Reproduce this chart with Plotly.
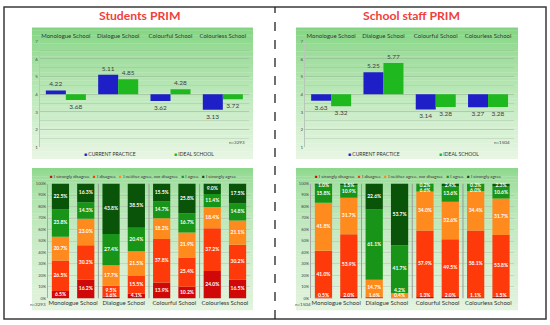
import plotly.graph_objects as go

W, H = 550, 325
def px(x): return x / W
def py(y): return 1 - y / H

# ---------------- data ----------------
schools = ["Monologue School", "Dialogue School", "Colourful School", "Colourless School"]
students_current = [4.22, 5.11, 3.62, 3.13]
students_ideal = [3.68, 4.85, 4.28, 3.72]
staff_current = [3.63, 5.25, 3.14, 3.27]
staff_ideal = [3.32, 5.77, 3.28, 3.28]

likert = ["I strongly disagree", "I disagree", "I neither agree, nor disagree", "I agree", "I strongly agree"]
# 8 bars: Monologue cur/ideal, Dialogue cur/ideal, Colourful cur/ideal, Colourless cur/ideal
students_sd = [6.5, 16.2, 1.6, 4.1, 13.9, 10.2, 24.0, 16.5]
students_d = [26.5, 30.2, 9.5, 15.5, 37.8, 25.4, 37.2, 30.2]
students_n = [20.7, 23.0, 17.7, 21.5, 18.2, 21.9, 18.4, 21.1]
students_a = [23.8, 14.3, 27.4, 20.4, 14.7, 16.7, 11.4, 14.8]
students_sa = [22.5, 16.3, 43.8, 38.5, 15.5, 25.8, 9.0, 17.5]
staff_sd = [0.5, 2.0, 0.0, 0.0, 1.3, 2.0, 1.1, 1.5]
staff_d = [41.0, 53.9, 1.6, 0.4, 57.9, 49.5, 58.1, 53.8]
staff_n = [41.8, 31.7, 14.7, 4.2, 34.0, 32.6, 34.4, 31.7]
staff_a = [15.8, 10.9, 61.1, 41.7, 6.6, 13.6, 6.0, 10.6]
staff_sa = [1.0, 1.5, 22.6, 53.7, 0.2, 2.4, 0.3, 2.3]
bar_positions = [0, 1, 2, 3, 4, 5, 6, 7]
group_centers = [0.5, 2.5, 4.5, 6.5]

BLUE = "#1F1FC8"
GREEN = "#1FB81F"
LIK_COLORS = ["#D00808", "#FF3A0A", "#FF8A1E", "#189418", "#0A540A"]
FONT = "Lato, Carlito, sans-serif"

fig = go.Figure()

# ---------------- top charts ----------------
for ax, cur, ide in (("", students_current, students_ideal), ("2", staff_current, staff_ideal)):
    for vals, col in ((cur, BLUE), (ide, GREEN)):
        fig.add_trace(go.Bar(
            x=schools, y=[v - 4 for v in vals], base=4,
            text=[f"{v:.2f}" for v in vals], textposition="outside",
            textfont=dict(size=6.5, color="#404040", family=FONT),
            marker=dict(color=col, line=dict(width=0)),
            cliponaxis=False, showlegend=False, hoverinfo="skip",
            xaxis="x" + ax, yaxis="y" + ax))

# ---------------- bottom charts ----------------
MIN_GAP, FLOOR, CEIL = 4.2, 2.6, 97.9
for ax, series in (("3", [students_sd, students_d, students_n, students_a, students_sa]),
                   ("4", [staff_sd, staff_d, staff_n, staff_a, staff_sa])):
    cum = [0.0] * len(bar_positions)
    centers = []
    for k, vals in enumerate(series):
        fig.add_trace(go.Bar(
            x=bar_positions, y=vals, base=list(cum), offsetgroup="s", width=0.68,
            marker=dict(color=LIK_COLORS[k], line=dict(width=0)),
            name=likert[k], showlegend=False, hoverinfo="skip",
            xaxis="x" + ax, yaxis="y" + ax))
        centers.append([c + v / 2 for c, v in zip(cum, vals)])
        cum = [c + v for c, v in zip(cum, vals)]
    # data labels: segment centres, nudged apart when segments are thin
    lx, ly, lt = [], [], []
    for i in bar_positions:
        idx = [k for k in range(len(series)) if series[k][i] > 0]
        ys = [centers[k][i] for k in idx]
        prev = -1e9
        for j in range(len(ys)):
            ys[j] = max(ys[j], FLOOR, prev + MIN_GAP)
            prev = ys[j]
        nxt = 1e9
        for j in range(len(ys) - 1, -1, -1):
            ys[j] = min(ys[j], CEIL, nxt - MIN_GAP)
            nxt = ys[j]
        for k, yv in zip(idx, ys):
            lx.append(i)
            ly.append(yv)
            lt.append(f"{series[k][i]:.1f}%")
    fig.add_trace(go.Scatter(
        x=lx, y=ly, text=lt, mode="text", textposition="middle center",
        textfont=dict(size=5, color="white", family=FONT, weight="bold"),
        showlegend=False, hoverinfo="skip", cliponaxis=False,
        xaxis="x" + ax, yaxis="y" + ax))

# ---------------- layout ----------------
shapes = []
def gradient(x0, x1, y0, y1, ctop, cbot, n=50, gamma=1.0):
    for i in range(n):
        t = ((i + 0.5) / n) ** gamma
        c = tuple(round(a + (b - a) * t) for a, b in zip(ctop, cbot))
        ya = y0 + (y1 - y0) * i / n
        yb = y0 + (y1 - y0) * (i + 1) / n + 0.3
        shapes.append(dict(type="rect", xref="paper", yref="paper",
                           x0=px(x0), x1=px(x1), y0=py(ya), y1=py(min(yb, y1)),
                           fillcolor=f"rgb{c}", line=dict(width=0), layer="below"))

TOPC = (128, 212, 128)
gradient(32, 253, 25, 159, TOPC, (232, 246, 228), gamma=0.8)
gradient(296, 518, 25, 159, TOPC, (232, 246, 228), gamma=0.8)
gradient(32, 253, 168, 313, TOPC, (226, 243, 222), gamma=0.45)
gradient(296, 518, 168, 313, TOPC, (226, 243, 222), gamma=0.45)

# separators in bottom charts
for ax in ("3", "4"):
    for xs in (1.5, 3.5, 5.5):
        shapes.append(dict(type="line", xref="x" + ax, yref="y" + ax, x0=xs, x1=xs, y0=0, y1=100,
                           line=dict(color="#9A9A9A", width=1), layer="above"))

# outer border and divider
shapes.append(dict(type="rect", xref="paper", yref="paper", x0=px(4), x1=px(546), y0=py(322), y1=py(4),
                   line=dict(color="#3A3A3A", width=1.5), layer="above"))
shapes.append(dict(type="line", xref="paper", yref="paper", x0=px(275), x1=px(275), y0=py(322), y1=py(4),
                   line=dict(color="#222222", width=1.3, dash="dash"), layer="above"))

GRID = "rgba(150,180,150,0.45)"
def top_x(dom):
    return dict(domain=dom, side="top", type="category", showline=False, ticks="",
                tickfont=dict(size=6, color="#333333", family=FONT), showgrid=False, ticklabelstandoff=1)
def top_y(dom):
    return dict(domain=dom, range=[1, 7], tickvals=[1, 2, 3, 4, 5, 6, 7], showgrid=True,
                gridcolor=GRID, gridwidth=0.7, zeroline=False, showline=True, linecolor="#B8C8B8",
                linewidth=1, ticks="", tickfont=dict(size=4.5, color="#444444", family=FONT),
                minor=dict(dtick=0.5, showgrid=True, gridcolor=GRID, gridwidth=0.7))
def bot_x(dom):
    return dict(domain=dom, range=[-0.5, 7.5], tickvals=group_centers, ticktext=schools, showgrid=False,
                zeroline=False, showline=False, ticks="",
                tickfont=dict(size=6, color="#333333", family=FONT))
def bot_y(dom):
    return dict(domain=dom, range=[0, 100], tickvals=list(range(0, 101, 10)),
                ticktext=[f"{v}%" for v in range(0, 101, 10)], showgrid=True, gridcolor="rgba(170,170,170,0.6)",
                gridwidth=0.6, zeroline=False, showline=True, linecolor="#A8A8A8", ticks="",
                tickfont=dict(size=4, color="#444444", family=FONT))

def ann(text, x, y, size, color="#333333", xa="center", ya="middle", bold=False):
    f = dict(size=size, color=color, family=FONT)
    if bold:
        f["weight"] = "bold"
    return dict(text=text, x=px(x), y=py(y), xref="paper", yref="paper", showarrow=False,
                xanchor=xa, yanchor=ya, font=f)

annotations = [
    ann("Students PRIM", 139, 13, 12.2, "#F0403C", bold=True),
    ann("School staff PRIM", 411, 13, 12.2, "#F0403C", bold=True),
]
for xb, xg, xn, ntext in ((82, 172, 247, "n=3293"), (346, 437, 512, "n=1504")):
    annotations.append(ann(f"<span style='color:{BLUE}'>■</span> CURRENT PRACTICE", xb, 153.5, 5, xa="left"))
    annotations.append(ann(f"<span style='color:{GREEN}'>■</span> IDEAL SCHOOL", xg, 153.5, 5, xa="left"))
    annotations.append(ann(ntext, xn, 142, 4.5, "#444444", xa="right"))

sp = "&nbsp;" * 3
leg = sp.join(f"<span style='color:{c}'>■</span> {n}" for c, n in zip(LIK_COLORS, likert))
for xc in (143, 408):
    annotations.append(ann(leg, xc, 176.5, 4.5))
for xn, ntext in ((38, "n=3293"), (303, "n=1504")):
    annotations.append(ann(ntext, xn, 307.5, 4.5, "#444444"))

fig.update_layout(
    width=W, height=H, margin=dict(l=0, r=0, t=0, b=0),
    paper_bgcolor="white", plot_bgcolor="rgba(0,0,0,0)",
    barmode="group", bargap=0.235, bargroupgap=0,
    font=dict(family=FONT),
    xaxis=top_x([px(39.7), px(249)]), yaxis=top_y([py(147), py(39)]),
    xaxis2=top_x([px(305), px(514.2)]), yaxis2=top_y([py(147), py(39)]),
    xaxis3=bot_x([px(47.8), px(250.2)]), yaxis3=bot_y([py(301), py(184)]),
    xaxis4=bot_x([px(310.8), px(513.7)]), yaxis4=bot_y([py(301), py(184)]),
    shapes=shapes, annotations=annotations,
)
fig.update_layout(yaxis=dict(anchor="x"), yaxis2=dict(anchor="x2"), yaxis3=dict(anchor="x3"),
                  yaxis4=dict(anchor="x4"),
                  xaxis=dict(anchor="y"), xaxis2=dict(anchor="y2"), xaxis3=dict(anchor="y3"),
                  xaxis4=dict(anchor="y4"))

fig.write_html("out.html", config={"displayModeBar": False, "staticPlot": True},
               post_script="document.body.style.margin='0';document.body.style.overflow='hidden';")
